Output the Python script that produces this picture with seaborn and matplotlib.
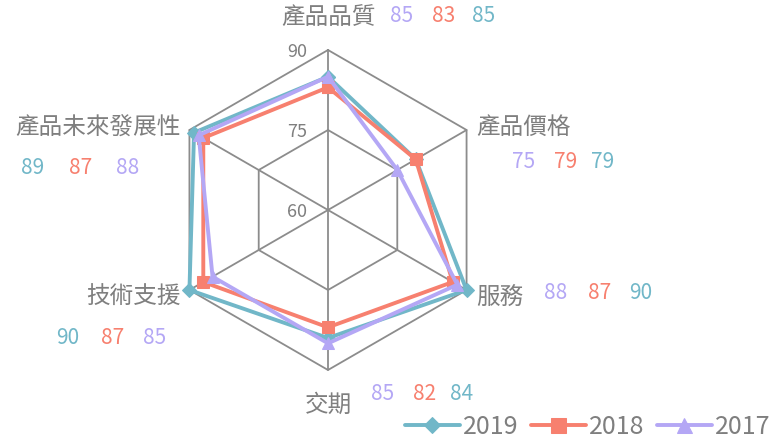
import numpy as np
import pandas as pd
import matplotlib
matplotlib.use("Agg")
import matplotlib.pyplot as plt
import seaborn as sns

categories = ["產品品質", "產品價格", "服務", "交期", "技術支援", "產品未來發展性"]
years = ["2019", "2018", "2017"]
v2019 = [85, 79, 90, 84, 90, 89]
v2018 = [83, 79, 87, 82, 87, 87]
v2017 = [85, 75, 88, 85, 85, 88]
ticks = [60, 75, 90]

r_min, r_max = 60, 90
colors = {"2019": "#71B7C8", "2018": "#F7806F", "2017": "#B4A7F5"}
markers = {"2019": "D", "2018": "s", "2017": "^"}
msizes = {"2019": 7, "2018": 9, "2017": 9}
text_gray = "#7F7F7F"
grid_gray = "#8C8C8C"

sns.set_style("white")
plt.rcParams["font.family"] = ["Noto Sans CJK TC", "DejaVu Sans"]

W, H = 776, 445
cx, cy, R = 328, 210, 160
fig = plt.figure(figsize=(W / 100, H / 100), dpi=100)
ax = fig.add_axes([0, 0, 1, 1])
ax.set_xlim(-cx / R, (W - cx) / R)
ax.set_ylim(-(H - cy) / R, cy / R)
ax.axis("off")


def px(x, y):
    return (x - cx) / R, (cy - y) / R


angles = np.deg2rad(90 - 60 * np.arange(len(categories)))

# grid: hexagons and spokes
for t in ticks[1:]:
    rr = (t - r_min) / (r_max - r_min)
    hx = np.append(rr * np.cos(angles), rr * np.cos(angles[0]))
    hy = np.append(rr * np.sin(angles), rr * np.sin(angles[0]))
    ax.plot(hx, hy, color=grid_gray, lw=1.3, zorder=1)
for a in angles:
    ax.plot([0, np.cos(a)], [0, np.sin(a)], color=grid_gray, lw=1.3, zorder=1)

for t in ticks:
    rr = (t - r_min) / (r_max - r_min)
    ax.text(-0.13, rr - 0.01, str(t), ha="right", va="center",
            fontsize=13, color=text_gray)

# series (estimator=None so points sharing an x are not averaged)
series = {"2019": v2019, "2018": v2018, "2017": v2017}
for i, yr in enumerate(years):
    vals = np.array(series[yr], dtype=float)
    rr = (vals - r_min) / (r_max - r_min)
    df = pd.DataFrame({"x": rr * np.cos(angles), "y": rr * np.sin(angles)})
    df = pd.concat([df, df.iloc[[0]]], ignore_index=True)
    sns.lineplot(data=df, x="x", y="y", sort=False, estimator=None, ax=ax,
                 color=colors[yr], lw=2.8, marker=markers[yr],
                 markersize=msizes[yr], markeredgecolor=colors[yr],
                 label=yr, zorder=3 + i)

# category labels and value annotations
label_pos = [(329, 18, "center"), (476, 127, "left"), (476, 297, "left"),
             (328, 405, "center"), (181, 297, "right"), (181, 128, "right")]
value_order = [["2017", "2018", "2019"], ["2017", "2018", "2019"],
               ["2017", "2018", "2019"], ["2017", "2018", "2019"],
               ["2019", "2018", "2017"], ["2019", "2018", "2017"]]
value_x = [[402, 444, 484], [524, 566, 603], [556, 600, 641],
           [383, 425, 462], [68, 113, 155], [33, 81, 128]]
value_y = [16, 162, 293, 394, 338, 168]

for k, cat in enumerate(categories):
    lx, ly, ha = label_pos[k]
    x, y = px(lx, ly)
    ax.text(x, y, cat, ha=ha, va="center", fontsize=17, color=text_gray)
    for j, yr in enumerate(value_order[k]):
        x, y = px(value_x[k][j], value_y[k])
        ax.text(x, y, str(series[yr][k]), ha="center", va="center",
                fontsize=15, color=colors[yr])

leg = ax.legend(loc="lower right", bbox_to_anchor=(1.012, -0.022), ncol=3,
                frameon=False, fontsize=18, handlelength=2.2,
                handletextpad=0.12, columnspacing=0.5, borderaxespad=0.2,
                markerscale=1.2)
for t in leg.get_texts():
    t.set_color(text_gray)

fig.savefig("out.png", dpi=100)
